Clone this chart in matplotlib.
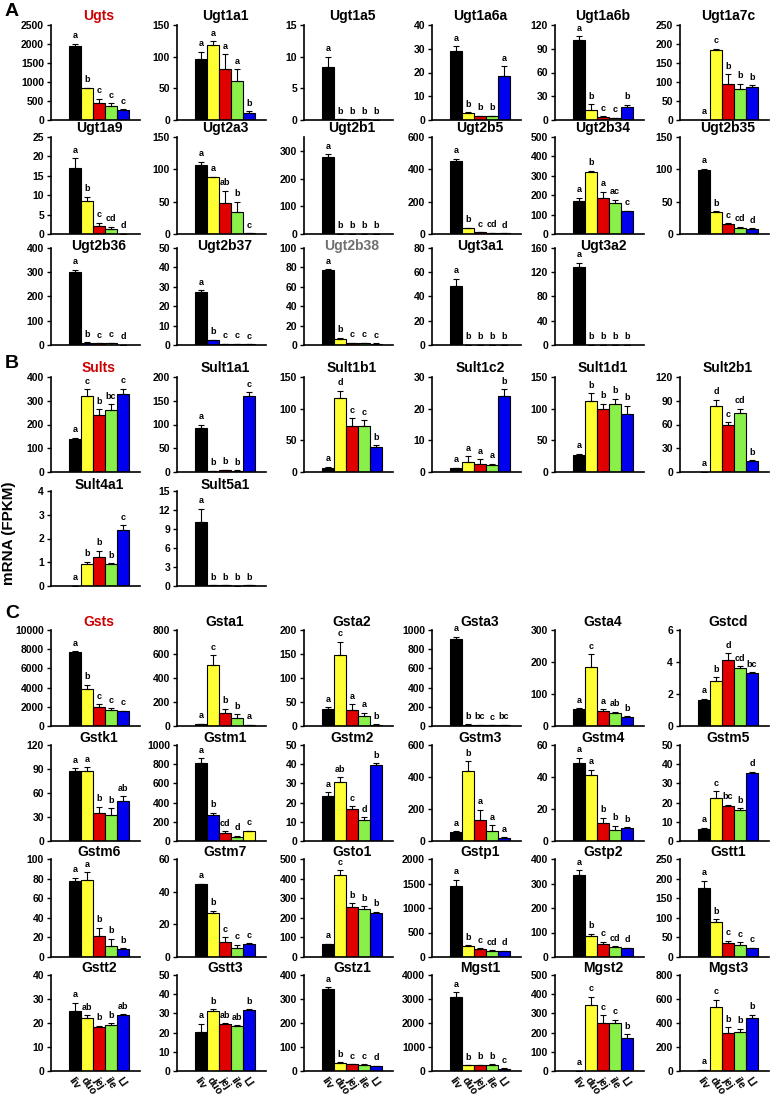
import matplotlib
matplotlib.use('Agg')
import matplotlib.pyplot as plt
import numpy as np

plt.rcParams['font.family'] = ['Liberation Sans Narrow', 'Liberation Sans', 'DejaVu Sans']
plt.rcParams['font.weight'] = 'bold'

tissues = ['liv', 'duo', 'jej', 'ile', 'LI']
bar_colors = ['#000000', '#FFFF33', '#E00000', '#88F048', '#0000EE']
# a few panels in the source figure use a different colour order
alt_colors = ['#000000', '#0000EE', '#E00000', '#88F048', '#FFFF33']
alt_color_genes = {'Ugt2b36', 'Ugt2b37', 'Gstm1'}

# ---------------- Section A: Ugts ----------------
ugt_genes = ['Ugts', 'Ugt1a1', 'Ugt1a5', 'Ugt1a6a', 'Ugt1a6b', 'Ugt1a7c',
             'Ugt1a9', 'Ugt2a3', 'Ugt2b1', 'Ugt2b5', 'Ugt2b34', 'Ugt2b35',
             'Ugt2b36', 'Ugt2b37', 'Ugt2b38', 'Ugt3a1', 'Ugt3a2']
ugt_values = [[1950, 830, 450, 380, 270], [96, 119, 80, 62, 11], [8.3, 0.1, 0.05, 0.1, 0.05],
              [29, 2.8, 1.5, 1.5, 18.7], [101, 13, 3.5, 2.5, 16], [0.5, 185, 96, 81, 86],
              [17, 8.6, 2, 1.2, 0.1], [107, 88, 48, 34, 1], [277, 0.5, 0.2, 0.2, 0.3],
              [450, 35, 10, 8, 4], [172, 320, 188, 160, 118], [99, 34, 15, 10, 8],
              [303, 10, 7, 8, 0.5], [27.5, 2.4, 0.6, 0.5, 0.4], [77.5, 6.5, 2, 2, 1.5],
              [49, 0.2, 0.1, 0.1, 0.1], [128, 0.3, 0.2, 0.2, 0.2]]
ugt_errors = [[60, 20, 110, 60, 15], [12, 5, 24, 18, 3], [1.7, 0, 0, 0, 0],
              [2, 0.4, 0.3, 0.3, 4], [5, 7, 1, 0.5, 3.5], [0, 3, 25, 14, 6],
              [2.5, 1, 0.9, 0.7, 0], [5, 0.5, 19, 16, 0], [10, 0, 0, 0, 0],
              [15, 5, 1, 1, 0.5], [14, 6, 30, 17, 3], [2, 1, 2, 1.5, 1],
              [7, 1, 1, 1, 0], [0.8, 0.2, 0.1, 0.1, 0.1], [0.5, 0.8, 0.3, 0.3, 0.2],
              [5.5, 0, 0, 0, 0], [8, 0, 0, 0, 0]]
ugt_letters = ['a b c c c', 'a a a a b', 'a b b b b', 'a b b b a', 'a b c c b', 'a c b b b',
               'a b c cd d', 'a a ab b c', 'a b b b b', 'a b c cd d', 'a b a ac c', 'a b c cd d',
               'a b c c d', 'a b c c c', 'a b c c c', 'a b b b b', 'a b b b b']
ugt_ymax = [2500, 150, 15, 40, 120, 250, 25, 150, 350, 600, 500, 150, 400, 50, 100, 80, 160]
ugt_ystep = [500, 50, 5, 10, 30, 50, 5, 50, 100, 200, 100, 50, 100, 10, 20, 20, 40]

# ---------------- Section B: Sults ----------------
sult_genes = ['Sults', 'Sult1a1', 'Sult1b1', 'Sult1c2', 'Sult1d1', 'Sult2b1', 'Sult4a1', 'Sult5a1']
sult_values = [[140, 320, 240, 263, 330], [92, 2, 4, 3, 160], [7, 117, 72, 73, 40],
               [1.2, 3.3, 2.6, 2.1, 24], [27, 112, 99, 107, 91], [0.2, 83, 60, 75, 14],
               [0.01, 0.92, 1.23, 0.93, 2.35], [10.1, 0.1, 0.15, 0.05, 0.15]]
sult_errors = [[5, 28, 25, 22, 20], [8, 0.5, 1, 0.5, 8], [1, 11, 13, 9, 2],
               [0.2, 1.6, 1.4, 0.5, 2.2], [1.5, 12, 9, 9, 14], [0, 8, 3, 5, 1],
               [0, 0.1, 0.25, 0.03, 0.2], [2.1, 0, 0, 0, 0]]
sult_letters = ['a c b bc c', 'a b b b c', 'a d c c b', 'a a a a b', 'a b b b b', 'a d c cd b',
                'a b b b c', 'a b b b b']
sult_ymax = [400, 200, 150, 30, 150, 120, 4, 15]
sult_ystep = [100, 50, 50, 10, 50, 30, 1, 3]

# ---------------- Section C: Gsts ----------------
gst_genes = ['Gsts', 'Gsta1', 'Gsta2', 'Gsta3', 'Gsta4', 'Gstcd',
             'Gstk1', 'Gstm1', 'Gstm2', 'Gstm3', 'Gstm4', 'Gstm5',
             'Gstm6', 'Gstm7', 'Gsto1', 'Gstp1', 'Gstp2', 'Gstt1',
             'Gstt2', 'Gstt3', 'Gstz1', 'Mgst1', 'Mgst2', 'Mgst3']
gst_values = [[7700, 3900, 1950, 1700, 1550], [15, 505, 105, 70, 8], [35, 148, 33, 20, 3],
              [905, 15, 10, 8, 12], [52, 185, 47, 40, 27], [1.6, 2.8, 4.15, 3.6, 3.3],
              [87, 87, 35, 33, 50], [810, 275, 80, 40, 100], [23.5, 30.5, 16.5, 11, 39.5],
              [55, 435, 130, 62, 20], [48.5, 41, 11, 7, 8], [6.5, 22.5, 18, 16, 35.5],
              [78, 78.5, 21, 11.5, 8.5], [44.5, 27, 9, 5.5, 8], [65, 420, 255, 245, 222],
              [1450, 220, 160, 130, 120], [335, 85, 55, 40, 35], [175, 90, 35, 30, 22],
              [25.2, 22, 18.5, 19.3, 23.4], [20.5, 31, 24.5, 23.5, 31.7], [342, 35, 28, 27, 20],
              [3070, 230, 250, 270, 100], [1, 345, 252, 252, 173], [10, 537, 318, 322, 445]]
gst_errors = [[80, 400, 300, 150, 50], [3, 85, 40, 30, 2], [4, 28, 12, 8, 0.5],
              [25, 1, 1, 1, 1], [3, 40, 5, 5, 3], [0.1, 0.25, 0.4, 0.15, 0.05],
              [4, 5, 8, 8, 6], [50, 20, 20, 15, 5], [2, 2.8, 1.5, 1.5, 1],
              [5, 65, 65, 35, 3], [3.5, 3.5, 3.5, 2.5, 0.5], [0.5, 3.5, 0.8, 1.2, 0.5],
              [3, 8, 9, 7, 0.5], [0.5, 1.2, 3, 2, 0.3], [3, 22, 18, 15, 8],
              [130, 20, 15, 10, 10], [20, 10, 8, 3, 2], [20, 7, 6, 8, 2],
              [3.3, 1.3, 0.4, 0.5, 0.3], [4, 1.2, 0.5, 0.3, 0.5], [8, 2, 1, 1, 1],
              [220, 20, 20, 20, 10], [0, 42, 38, 15, 18], [2, 55, 45, 30, 22]]
gst_letters = ['a b c c c', 'a c b b a', 'a c a a b', 'a b bc c bc', 'a c a ab b', 'a b d cd bc',
               'a a b b ab', 'a b cd d c', 'a ab c d b', 'a b a a a', 'a a b b b', 'a c bc b d',
               'a a b b b', 'a b c c c', 'a c b b b', 'a b c cd d', 'a b c cd d', 'a b c c c',
               'a ab b b ab', 'a b ab ab b', 'a b c c d', 'a b b b c', 'a c c c b', 'a c b b b']
gst_ymax = [10000, 800, 200, 1000, 300, 6, 120, 1000, 50, 600, 60, 50,
            100, 60, 500, 2000, 400, 250, 40, 50, 400, 4000, 500, 800]
gst_ystep = [2000, 200, 50, 200, 100, 2, 30, 200, 10, 200, 20, 10,
             20, 20, 100, 500, 100, 50, 10, 10, 100, 1000, 100, 200]

summary_genes = {'Ugts', 'Sults', 'Gsts'}
gray_genes = {'Ugt2b38'}

# ---------------- layout (pixels) ----------------
W, H = 774, 1106
fig = plt.figure(figsize=(W / 100, H / 100), dpi=100)

group_centers = [99, 225, 352, 480, 603, 728]
px_per_unit = 12.0
xlo, xhi = -2.0, 5.4
rows = [(25, 120), (137, 234), (248, 345), (377, 472), (491, 586),
        (630, 726), (745, 841), (859, 957), (975, 1071)]
title_y = [16, 128, 246, 368, 485, 622, 738, 852, 968]


def build(genes, values, errors, letters, ymax, ystep):
    return [tuple(t) for t in zip(genes, values, errors, letters, ymax, ystep)]


up = build(ugt_genes, ugt_values, ugt_errors, ugt_letters, ugt_ymax, ugt_ystep)
sp = build(sult_genes, sult_values, sult_errors, sult_letters, sult_ymax, sult_ystep)
gp = build(gst_genes, gst_values, gst_errors, gst_letters, gst_ymax, gst_ystep)
all_rows = [up[0:6], up[6:12], up[12:17], sp[0:6], sp[6:8],
            gp[0:6], gp[6:12], gp[12:18], gp[18:24]]


def fmt(v):
    if abs(v - round(v)) < 1e-9:
        return str(int(round(v)))
    return str(v)


x = np.arange(5)
for r, row in enumerate(all_rows):
    top, bot = rows[r]
    for c, (gene, vals, errs, lets, ymax, ystep) in enumerate(row):
        left_px = group_centers[c] - (2 - xlo) * px_per_unit
        w_px = (xhi - xlo) * px_per_unit
        ax = fig.add_axes([left_px / W, 1 - bot / H, w_px / W, (bot - top) / H])
        cols = alt_colors if gene in alt_color_genes else bar_colors
        ax.bar(x, vals, width=1.0, color=cols, edgecolor='black', linewidth=0.8, zorder=2)
        ax.errorbar(x, vals, yerr=[np.zeros(5), errs], fmt='none', ecolor='black',
                    elinewidth=0.8, capsize=2, capthick=0.8, zorder=3)
        for i, let in enumerate(lets.split()):
            ax.annotate(let, (x[i], vals[i] + errs[i]), xytext=(0, 2.5),
                        textcoords='offset points', ha='center', va='bottom',
                        fontsize=6.5, fontweight='bold')
        ax.set_xlim(xlo, xhi)
        ax.set_ylim(0, ymax)
        n = int(np.floor(ymax / ystep + 1e-9))
        ticks = [k * ystep for k in range(n + 1)]
        ax.set_yticks(ticks)
        ax.set_yticklabels([fmt(t) for t in ticks], fontsize=7.5, fontweight='bold')
        for sname in ['top', 'right']:
            ax.spines[sname].set_visible(False)
        for sname in ['left', 'bottom']:
            ax.spines[sname].set_linewidth(1.2)
        ax.tick_params(axis='y', length=3, width=1, pad=2)
        if r == len(all_rows) - 1:
            ax.set_xticks(x)
            ax.set_xticklabels(tissues, rotation=-55, ha='left', va='top',
                               rotation_mode='anchor', fontsize=7.5, fontweight='bold')
            ax.tick_params(axis='x', length=0, pad=3)
        else:
            ax.set_xticks([])
        color = '#CC0000' if gene in summary_genes else ('#707070' if gene in gray_genes else 'black')
        fig.text(group_centers[c] / W, 1 - title_y[r] / H, gene, ha='center', va='center',
                 fontsize=10, fontweight='bold', color=color)

fig.text(12 / W, 1 - 12 / H, 'A', ha='center', va='center', fontsize=14, fontweight='bold')
fig.text(12 / W, 1 - 363 / H, 'B', ha='center', va='center', fontsize=14, fontweight='bold')
fig.text(12 / W, 1 - 614 / H, 'C', ha='center', va='center', fontsize=14, fontweight='bold')
fig.text(9 / W, 1 - 533 / H, 'mRNA (FPKM)', ha='center', va='center', rotation=90,
         fontsize=11, fontweight='bold')

fig.savefig('out.png', dpi=100)
